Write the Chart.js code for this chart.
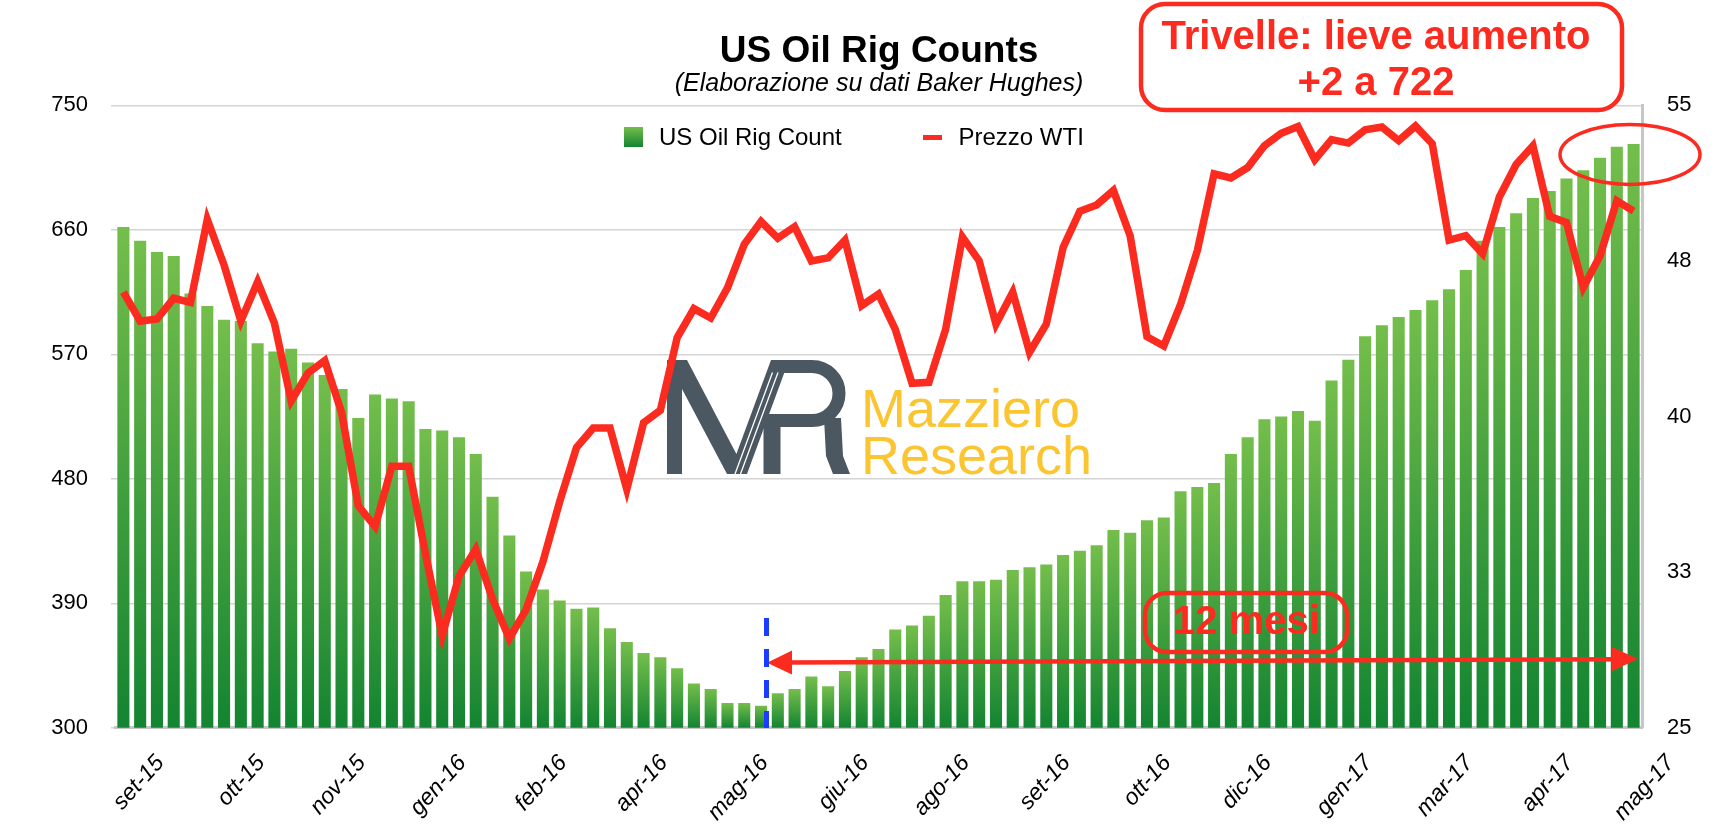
<!DOCTYPE html>
<html>
<head>
<meta charset="utf-8">
<script src="https://cdn.jsdelivr.net/npm/chart.js@4.4.1/dist/chart.umd.min.js"></script>
<style>
html,body{margin:0;padding:0;background:#ffffff;}
#wrap{width:1736px;height:828px;}
</style>
</head>
<body>
<div id="wrap"><canvas id="c" width="1736" height="828"></canvas></div>
<script>
// ---------- DATA ----------
const weekLabels = [
 'set-15','set-15','set-15','set-15',
 'ott-15','ott-15','ott-15','ott-15','ott-15',
 'nov-15','nov-15','nov-15','nov-15',
 'dic-15','dic-15','dic-15','dic-15','dic-15',
 'gen-16','gen-16','gen-16','gen-16',
 'feb-16','feb-16','feb-16','feb-16',
 'mar-16','mar-16','mar-16','mar-16',
 'apr-16','apr-16','apr-16','apr-16','apr-16',
 'mag-16','mag-16','mag-16','mag-16',
 'giu-16','giu-16','giu-16','giu-16',
 'lug-16','lug-16','lug-16','lug-16','lug-16',
 'ago-16','ago-16','ago-16','ago-16',
 'set-16','set-16','set-16','set-16','set-16',
 'ott-16','ott-16','ott-16','ott-16',
 'nov-16','nov-16','nov-16','nov-16',
 'dic-16','dic-16','dic-16','dic-16','dic-16',
 'gen-17','gen-17','gen-17','gen-17',
 'feb-17','feb-17','feb-17','feb-17',
 'mar-17','mar-17','mar-17','mar-17','mar-17',
 'apr-17','apr-17','apr-17','apr-17',
 'mag-17','mag-17','mag-17','mag-17'
];

const rigCount = [
 662,652,644,641,614,605,595,594,578,572,574,564,555,545,524,541,538,536,
 516,515,510,498,467,439,413,400,392,386,387,372,362,354,351,343,332,
 328,318,318,316,325,328,337,330,341,351,357,371,374,381,396,406,406,
 407,414,416,418,425,428,432,443,441,450,452,471,474,477,498,510,523,525,
 529,522,551,566,583,591,597,602,609,617,631,652,662,672,683,688,697,
 703,712,720,722
];

const wtiPrice = [
 46.0,44.6,44.7,45.7,45.5,49.5,47.3,44.6,46.5,44.5,40.75,42.1,42.7,40.2,35.7,34.7,37.6,37.6,
 33.4,29.45,32.3,33.6,31.2,29.3,30.7,33.0,35.9,38.5,39.45,39.45,36.5,39.7,40.3,43.8,45.2,
 44.75,46.2,48.3,49.4,48.6,49.15,47.5,47.65,48.5,45.35,45.9,44.2,41.6,41.65,44.2,48.65,47.5,
 44.45,46.0,43.1,44.45,48.15,49.9,50.2,50.9,48.7,43.85,43.4,45.4,48.0,51.7,51.5,52.0,53.05,53.65,
 53.98,52.38,53.35,53.18,53.82,53.95,53.3,54.0,53.15,48.5,48.72,47.85,50.58,52.15,53.05,49.65,49.35,
 46.22,47.75,50.4,49.9
];

const leftAxis = { min: 300, max: 750, step: 90 };
const rightAxis = { min: 25, max: 55, step: 7.5 };
const rightTickLabels = ['25','33','40','48','55'];
const labelEvery = 6;

// ---------- STYLE ----------
const FONT = "'Liberation Sans', Arial, Helvetica, sans-serif";
const RED = '#fc2b1f';
const GREEN_TOP = '#74be4b';
const GREEN_BOTTOM = '#138431';
const GRID = '#d4d4d4';
const AXIS = '#c6c6c6';
const X_ROT = 48;

function barGradient(ctx) {
  const chart = ctx.chart;
  const area = chart.chartArea;
  if (!area || ctx.type !== 'data') return '#3f9f3f';
  const yTop = chart.scales.y.getPixelForValue(ctx.raw);
  const g = chart.ctx.createLinearGradient(0, yTop, 0, area.bottom);
  g.addColorStop(0, GREEN_TOP);
  g.addColorStop(1, GREEN_BOTTOM);
  return g;
}

function roundRect(c, x, y, w, h, r) {
  c.beginPath();
  c.moveTo(x + r, y);
  c.arcTo(x + w, y, x + w, y + h, r);
  c.arcTo(x + w, y + h, x, y + h, r);
  c.arcTo(x, y + h, x, y, r);
  c.arcTo(x, y, x + w, y, r);
  c.closePath();
}

// watermark logo (under the line)
const logoPlugin = {
  id: 'logo',
  beforeDatasetsDraw(chart) {
    const c = chart.ctx;
    c.save();
    c.fillStyle = '#4c5861';
    c.beginPath();
    c.moveTo(667, 360); c.lineTo(687, 360); c.lineTo(736.4, 454); c.lineTo(771, 360);
    c.lineTo(789, 360); c.lineTo(747, 474); c.lineTo(727, 474); c.lineTo(682, 389);
    c.lineTo(682, 474); c.lineTo(667, 474); c.closePath();
    c.fill();
    // R bowl
    c.strokeStyle = '#4c5861';
    c.lineWidth = 13;
    c.beginPath();
    c.moveTo(776, 366.5); c.lineTo(812, 366.5);
    c.arc(812, 393.5, 27, -Math.PI / 2, Math.PI / 2);
    c.lineTo(772, 420.5);
    c.stroke();
    // R stem
    c.fillRect(763.5, 414, 17, 60);
    // R leg
    c.beginPath();
    c.moveTo(824, 418); c.lineTo(841, 418); c.lineTo(843, 456); c.lineTo(850, 474);
    c.lineTo(833, 474); c.lineTo(826, 456); c.closePath();
    c.fill();
    // double white lines in the slash
    c.strokeStyle = '#ffffff';
    c.lineWidth = 1.3;
    c.beginPath();
    c.moveTo(735, 474); c.lineTo(772.5, 372.5);
    c.moveTo(740.5, 474); c.lineTo(778, 372.5);
    c.stroke();
    // text
    c.fillStyle = '#fbc531';
    c.font = '54px ' + FONT;
    c.textBaseline = 'alphabetic';
    c.textAlign = 'left';
    c.fillText('Mazziero', 861, 427);
    c.fillText('Research', 861, 473.5);
    c.restore();
  }
};

// legend drawn inside the plot, labels/colours taken from the datasets
const legendPlugin = {
  id: 'insideLegend',
  afterDraw(chart) {
    const c = chart.ctx;
    const ds = chart.data.datasets;
    const bar = ds.find(d => d.type === 'bar');
    const line = ds.find(d => d.type === 'line');
    c.save();
    const g = c.createLinearGradient(0, 127, 0, 147);
    g.addColorStop(0, GREEN_TOP);
    g.addColorStop(1, GREEN_BOTTOM);
    c.fillStyle = g;
    c.fillRect(624, 127, 19, 20);
    c.font = '24px ' + FONT;
    c.fillStyle = '#000';
    c.textBaseline = 'middle';
    c.textAlign = 'left';
    c.fillText(bar.label, 659, 138);
    c.strokeStyle = line.borderColor;
    c.lineWidth = 5;
    c.beginPath(); c.moveTo(923, 137.5); c.lineTo(942, 137.5); c.stroke();
    c.fillText(line.label, 958.5, 138);
    c.restore();
  }
};

// hand-drawn annotations
const annotationPlugin = {
  id: 'annotations',
  afterDraw(chart) {
    const c = chart.ctx;
    c.save();
    // top call-out box
    roundRect(c, 1141, 4, 481, 106, 24);
    c.fillStyle = '#ffffff';
    c.fill();
    c.strokeStyle = RED;
    c.lineWidth = 4.5;
    c.stroke();
    c.fillStyle = RED;
    c.font = 'bold 40px ' + FONT;
    c.textAlign = 'center';
    c.textBaseline = 'alphabetic';
    c.fillText('Trivelle: lieve aumento', 1376, 49);
    c.fillText('+2 a 722', 1376, 95);
    // ellipse around last bars
    c.lineWidth = 3.5;
    c.beginPath();
    c.ellipse(1630, 154.5, 70, 30, 0, 0, Math.PI * 2);
    c.stroke();
    // 12 mesi box
    roundRect(c, 1145, 593, 202, 59, 22);
    c.lineWidth = 4.5;
    c.stroke();
    c.fillText('12 mesi', 1246.5, 634);
    // double arrow
    c.lineWidth = 4.5;
    c.beginPath(); c.moveTo(788, 662.5); c.lineTo(1615, 659.3); c.stroke();
    c.beginPath(); c.moveTo(767, 662.7); c.lineTo(792, 650.5); c.lineTo(792, 674.5); c.closePath(); c.fill();
    c.beginPath(); c.moveTo(1638, 659); c.lineTo(1612, 647); c.lineTo(1612, 671); c.closePath(); c.fill();
    // blue dashed marker
    c.strokeStyle = '#1b3dff';
    c.lineWidth = 5;
    c.setLineDash([18, 13]);
    c.beginPath(); c.moveTo(766.5, 618); c.lineTo(766.5, 728); c.stroke();
    c.setLineDash([]);
    c.restore();
  }
};

new Chart(document.getElementById('c'), {
  type: 'bar',
  data: {
    labels: weekLabels,
    datasets: [
      {
        type: 'line',
        label: 'Prezzo WTI',
        data: wtiPrice,
        yAxisID: 'y1',
        borderColor: RED,
        backgroundColor: RED,
        borderWidth: 7.5,
        borderJoinStyle: 'miter',
        pointRadius: 0,
        tension: 0,
        fill: false,
        order: 0
      },
      {
        type: 'bar',
        label: 'US Oil Rig Count',
        data: rigCount,
        yAxisID: 'y',
        backgroundColor: barGradient,
        borderWidth: 0,
        barPercentage: 0.72,
        categoryPercentage: 1,
        order: 1
      }
    ]
  },
  options: {
    responsive: false,
    animation: false,
    devicePixelRatio: 1,
    layout: { padding: { left: 22, right: 0, top: 0, bottom: 0 } },
    plugins: {
      legend: { display: false },
      tooltip: { enabled: false },
      title: {
        display: true,
        text: 'US Oil Rig Counts',
        color: '#000',
        font: { family: FONT, size: 37, weight: 'bold', lineHeight: 1 },
        padding: { top: 33.5, bottom: 0 }
      },
      subtitle: {
        display: true,
        text: '(Elaborazione su dati Baker Hughes)',
        color: '#000',
        font: { family: FONT, size: 25, style: 'italic', lineHeight: 1 },
        padding: { top: 1.5, bottom: 8.3 }
      }
    },
    scales: {
      x: {
        offset: true,
        grid: { display: false, drawTicks: false },
        border: { display: true, color: AXIS, width: 3 },
        ticks: {
          autoSkip: false,
          maxRotation: X_ROT,
          minRotation: X_ROT,
          labelOffset: 37,
          padding: 22,
          color: '#000',
          font: { family: FONT, size: 23, style: 'italic' },
          callback: function (v, i) { return i % labelEvery === 0 ? this.getLabelForValue(v) : ''; }
        },
        afterCalculateLabelRotation(s) { s.labelRotation = X_ROT; },
        afterFit(s) { s.height = 100.2; }
      },
      y: {
        position: 'left',
        min: leftAxis.min,
        max: leftAxis.max,
        beginAtZero: false,
        grid: { color: GRID, lineWidth: 1.5, drawTicks: true, tickLength: 4 },
        border: { display: false },
        ticks: {
          stepSize: leftAxis.step,
          padding: 23,
          color: '#000',
          font: { family: FONT, size: 22 }
        },
        afterFit(s) { s.width = 93; }
      },
      y1: {
        position: 'right',
        min: rightAxis.min,
        max: rightAxis.max,
        grid: { display: false, drawTicks: false },
        border: { display: true, color: AXIS, width: 3 },
        ticks: {
          stepSize: rightAxis.step,
          padding: 25,
          color: '#000',
          font: { family: FONT, size: 22 },
          callback: function (v, i) { return rightTickLabels[i]; }
        },
        afterFit(s) { s.width = 94; }
      }
    }
  },
  plugins: [logoPlugin, legendPlugin, annotationPlugin]
});
</script>
</body>
</html>
